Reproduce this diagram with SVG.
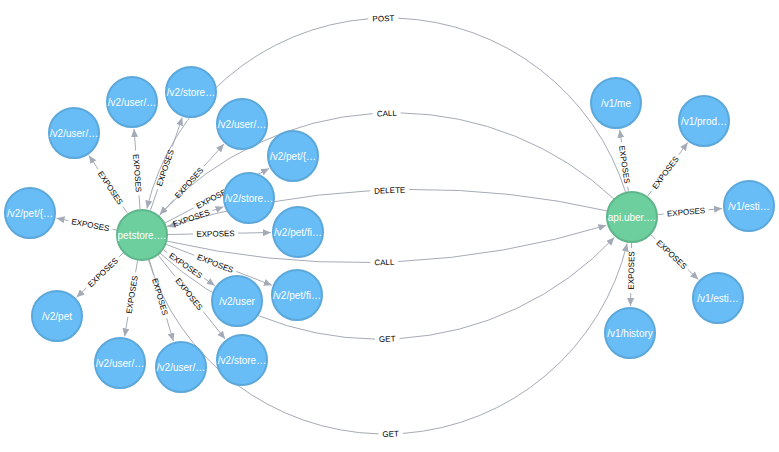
<svg xmlns="http://www.w3.org/2000/svg" width="779" height="452" viewBox="0 0 779 452">
<style>
.e{fill:none;stroke:#a5abb6;stroke-width:1;marker-end:url(#ah)}
.el{font-family:"Liberation Sans",Arial,sans-serif;font-size:8px;fill:#000;text-anchor:middle}
.n circle{stroke-width:2}
.b circle{fill:#68bdf6;stroke:#5ca8db}
.g circle{fill:#6dce9e;stroke:#60b58b}
.n text{font-family:"Liberation Sans",Arial,sans-serif;font-size:10px;fill:#fff;text-anchor:middle}
</style>
<defs>
<marker id="ah" markerUnits="userSpaceOnUse" markerWidth="8" markerHeight="7" refX="8" refY="3.5" orient="auto">
<path d="M0,0 L8,3.5 L0,7 Z" fill="#a5abb6"/>
</marker>
</defs>
<rect width="779" height="452" fill="#fff"/>
<g id="connectors">
<path class="e" d="M625.8,192.77 A248.49,248.49 0 0 0 146.87,208.45" stroke-dasharray="305.6 30 2000"/>
<path class="e" d="M614.32,199.23 A322.46,322.46 0 0 0 159.69,214.51" stroke-dasharray="235.5 28 2000"/>
<path class="e" d="M607.66,211.04 A852.8,852.8 0 0 0 167.65,226.72" stroke-dasharray="200.1 39 2000"/>
<path class="e" d="M166.34,240.96 A852.8,852.8 0 0 0 606.35,225.28" stroke-dasharray="205.6 28 2000"/>
<path class="e" d="M159.68,252.77 A322.46,322.46 0 0 0 614.31,237.49" stroke-dasharray="237.3 24.5 2000"/>
<path class="e" d="M148.2,259.23 A248.49,248.49 0 0 0 627.13,243.55" stroke-dasharray="308.4 24.5 2000"/>
<text class="el" transform="translate(383.4,18.3) rotate(-2.1)" dy="2.9">POST</text>
<text class="el" transform="translate(386.9,113.2) rotate(-2.1)" dy="2.9">CALL</text>
<text class="el" transform="translate(389.7,190.2) rotate(-2.1)" dy="2.9">DELETE</text>
<text class="el" transform="translate(384.3,262.1) rotate(-2.1)" dy="2.9">CALL</text>
<text class="el" transform="translate(387.2,338.8) rotate(-2.1)" dy="2.9">GET</text>
<text class="el" transform="translate(390.6,433.7) rotate(-2.1)" dy="2.9">GET</text>

<path class="e" d="M116.49,229.99 L56.49,218.2" stroke-dasharray="4.07 45 500"/>
<path class="e" d="M127.58,213.37 L88.98,155.47" stroke-dasharray="8.3 45 500"/>
<path class="e" d="M140.05,209.07 L134.02,128.92" stroke-dasharray="13.69 45 500"/>
<path class="e" d="M150.43,210.4 L182.25,117.54" stroke-dasharray="22.58 45 500"/>
<path class="e" d="M159.4,215.68 L223.93,144.06" stroke-dasharray="21.7 45 500"/>
<path class="e" d="M165.04,222.95 L269.08,168.52" stroke-dasharray="32.21 45 500"/>
<path class="e" d="M166.57,226.5 L223.48,206.82" stroke-dasharray="3.61 45 500"/>
<path class="e" d="M168,234.5 L271,232.52" stroke-dasharray="25.02 45 500"/>
<path class="e" d="M166.25,244.39 L271.82,285.25" stroke-dasharray="30.1 45 500"/>
<path class="e" d="M163.35,249.83 L214.83,285.6" stroke-dasharray="4.84 45 500"/>
<path class="e" d="M158.24,255.3 L225.13,338.92" stroke-dasharray="27.04 45 500"/>
<path class="e" d="M149.37,259.93 L173.35,341.11" stroke-dasharray="15.82 45 500"/>
<path class="e" d="M137.6,260.62 L124.57,336.39" stroke-dasharray="11.94 45 500"/>
<path class="e" d="M123.18,252.94 L76.55,297.37" stroke-dasharray="5.71 45 500"/>
<path class="e" d="M628.39,191.25 L619.75,129.74" stroke-dasharray="4.56 45 500"/>
<path class="e" d="M647.6,196.2 L687.8,142.6" stroke-dasharray="7 45 500"/>
<path class="e" d="M657.89,214.57 L722.12,208.53" stroke-dasharray="5.76 45 500"/>
<path class="e" d="M650.93,234.83 L698.35,279.49" stroke-dasharray="6.07 45 500"/>
<path class="e" d="M631.55,243 L630.47,306" stroke-dasharray="5.01 45 500"/>

<text class="el" transform="translate(90.42,224.87) rotate(11.1)" dy="2.9">EXPOSES</text>
<text class="el" transform="translate(110.5,187.75) rotate(56.31)" dy="2.9">EXPOSES</text>
<text class="el" transform="translate(137.34,172.99) rotate(85.7)" dy="2.9">EXPOSES</text>
<text class="el" transform="translate(165.04,167.75) rotate(-71.09)" dy="2.9">EXPOSES</text>
<text class="el" transform="translate(188.99,182.84) rotate(-47.98)" dy="2.9">EXPOSES</text>
<text class="el" transform="translate(213.52,197.59) rotate(-27.62)" dy="2.9">EXPOSES</text>
<text class="el" transform="translate(191.25,217.97) rotate(-19.07)" dy="2.9">EXPOSES</text>
<text class="el" transform="translate(215.5,233.59) rotate(-1.1)" dy="2.9">EXPOSES</text>
<text class="el" transform="translate(215.31,263.38) rotate(21.16)" dy="2.9">EXPOSES</text>
<text class="el" transform="translate(185.81,265.44) rotate(34.79)" dy="2.9">EXPOSES</text>
<text class="el" transform="translate(189.19,293.99) rotate(51.34)" dy="2.9">EXPOSES</text>
<text class="el" transform="translate(160.23,296.68) rotate(73.54)" dy="2.9">EXPOSES</text>
<text class="el" transform="translate(131.77,294.57) rotate(-80.25)" dy="2.9">EXPOSES</text>
<text class="el" transform="translate(102.77,272.4) rotate(-43.62)" dy="2.9">EXPOSES</text>
<text class="el" transform="translate(624.63,164.46) rotate(82.01)" dy="2.9">EXPOSES</text>
<text class="el" transform="translate(665.3,172.6) rotate(-53.13)" dy="2.9">EXPOSES</text>
<text class="el" transform="translate(686.02,211.92) rotate(-5.37)" dy="2.9">EXPOSES</text>
<text class="el" transform="translate(671.73,254.42) rotate(43.29)" dy="2.9">EXPOSES</text>
<text class="el" transform="translate(631.08,270.5) rotate(-89.01)" dy="2.9">EXPOSES</text>
</g>

<g id="n-petstore" class="n g"><circle cx="142" cy="235" r="25"/><text x="142" y="238.5">petstore.…</text></g>
<g id="n-uber" class="n g"><circle cx="632" cy="217" r="25"/><text x="632" y="220.5">api.uber.…</text></g>

<g id="n-a1" class="n b"><circle cx="30" cy="213" r="25"/><text x="30" y="216.5">/v2/pet/{…</text></g>
<g id="n-a2" class="n b"><circle cx="74" cy="133" r="25"/><text x="74" y="136.5">/v2/user/…</text></g>
<g id="n-a3" class="n b"><circle cx="132" cy="102" r="25"/><text x="132" y="105.5">/v2/user/…</text></g>
<g id="n-a4" class="n b"><circle cx="191" cy="92" r="25"/><text x="191" y="95.5">/v2/store…</text></g>
<g id="n-a5" class="n b"><circle cx="242" cy="124" r="25"/><text x="242" y="127.5">/v2/user/…</text></g>
<g id="n-a6" class="n b"><circle cx="293" cy="156" r="25"/><text x="293" y="159.5">/v2/pet/{…</text></g>
<g id="n-a7" class="n b"><circle cx="249" cy="198" r="25"/><text x="249" y="201.5">/v2/store…</text></g>
<g id="n-a8" class="n b"><circle cx="298" cy="232" r="25"/><text x="298" y="235.5">/v2/pet/fi…</text></g>
<g id="n-a9" class="n b"><circle cx="297" cy="295" r="25"/><text x="297" y="298.5">/v2/pet/fi…</text></g>
<g id="n-a10" class="n b"><circle cx="237" cy="301" r="25"/><text x="237" y="304.5">/v2/user</text></g>
<g id="n-a11" class="n b"><circle cx="242" cy="360" r="25"/><text x="242" y="363.5">/v2/store…</text></g>
<g id="n-a12" class="n b"><circle cx="181" cy="367" r="25"/><text x="181" y="370.5">/v2/user/…</text></g>
<g id="n-a13" class="n b"><circle cx="120" cy="363" r="25"/><text x="120" y="366.5">/v2/user/…</text></g>
<g id="n-a14" class="n b"><circle cx="57" cy="316" r="25"/><text x="57" y="319.5">/v2/pet</text></g>

<g id="n-b1" class="n b"><circle cx="616" cy="103" r="25"/><text x="616" y="106.5">/v1/me</text></g>
<g id="n-b2" class="n b"><circle cx="704" cy="121" r="25"/><text x="704" y="124.5">/v1/prod…</text></g>
<g id="n-b3" class="n b"><circle cx="749" cy="206" r="25"/><text x="749" y="209.5">/v1/esti…</text></g>
<g id="n-b4" class="n b"><circle cx="718" cy="298" r="25"/><text x="718" y="301.5">/v1/esti…</text></g>
<g id="n-b5" class="n b"><circle cx="630" cy="333" r="25"/><text x="630" y="336.5">/v1/history</text></g>
</svg>
